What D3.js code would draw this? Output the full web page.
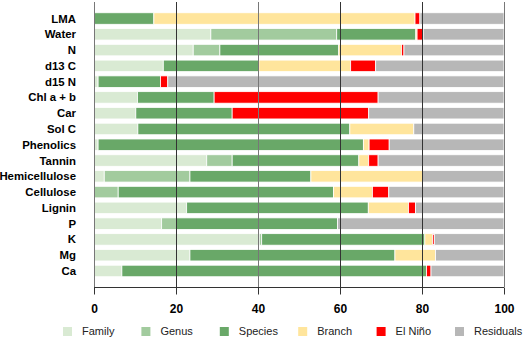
<!DOCTYPE html>
<html>
<head>
<meta charset="utf-8">
<script src="https://cdn.jsdelivr.net/npm/d3@7"></script>
<style>
  body { margin: 0; background: #fff; }
  svg { display: block; font-family: "Liberation Sans", Arial, sans-serif; }
</style>
</head>
<body>
<svg id="chart" width="525" height="339"></svg>
<script>
// variance partitioning (%) per trait
var traits = ["LMA", "Water", "N", "d13 C", "d15 N", "Chl a + b", "Car", "Sol C", "Phenolics",
  "Tannin", "Hemicellulose", "Cellulose", "Lignin", "P", "K", "Mg", "Ca"];

var sources = ["Family", "Genus", "Species", "Branch", "El Niño", "Residuals"];

var family    = [0,    28.5, 24.2, 16.9, 1.0,  10.6, 10.2, 10.7, 1.0,  27.5, 2.5,  0,    22.6, 16.5, 40.3, 23.4, 6.8];
var genus     = [0,    30.7, 6.5,  0,    0,    0,    0,    0,    0,    6.2,  20.9, 5.9,  0,    3.6,  0.6,  0,    0];
var species   = [14.6, 19.3, 29.0, 23.3, 15.2, 18.7, 23.5, 51.7, 64.7, 30.9, 29.5, 52.5, 44.3, 39.3, 39.8, 50.0, 74.3];
var branch    = [63.7, 0.3,  15.3, 22.4, 0,    0,    0,    15.6, 1.4,  2.4,  27.2, 9.5,  9.8,  0,    1.9,  9.9,  0];
var elnino    = [1.2,  1.5,  0.6,  6.1,  1.8,  40.0, 33.3, 0,    4.9,  2.3,  0,    4.0,  1.7,  0,    0.4,  0,    1.1];
var residuals = [20.5, 19.7, 24.4, 31.3, 82.0, 30.7, 33.0, 22.0, 28.0, 30.7, 19.9, 28.1, 21.6, 40.6, 17.0, 16.7, 17.8];

var ticks = [0, 20, 40, 60, 80, 100];
var colors = ["#d9ead3", "#a2cb9e", "#69a868", "#ffe59c", "#ff0000", "#b7b7b7"];

var seriesValues = [family, genus, species, branch, elnino, residuals];
var rows = traits.map(function(t, i) {
  var r = { trait: t };
  sources.forEach(function(s, j) { r[s] = seriesValues[j][i]; });
  return r;
});

var svg = d3.select("#chart");

var x = d3.scaleLinear().domain([0, 100]).range([94, 504]);
var y = d3.scaleBand().domain(traits).range([10.4, 279.1]).paddingInner(0.27).paddingOuter(0.15);
var color = d3.scaleOrdinal().domain(sources).range(colors);

var layers = d3.stack().keys(sources)(rows);

// bars
svg.append("g").selectAll("g")
  .data(layers)
  .enter().append("g")
  .attr("fill", function(d) { return color(d.key); })
  .selectAll("rect")
  .data(function(d) { return d; })
  .enter().append("rect")
  .attr("x", function(d) { return x(d[0]); })
  .attr("y", function(d) { return y(d.data.trait); })
  .attr("width", function(d) { return Math.max(0, x(d[1]) - x(d[0])); })
  .attr("height", y.bandwidth())
  .attr("stroke", "#fff")
  .attr("stroke-width", 0.8);

// vertical grid lines over bars
svg.append("g").selectAll("line")
  .data(ticks)
  .enter().append("line")
  .attr("x1", function(d) { return Math.round(x(d)) + 0.5; })
  .attr("x2", function(d) { return Math.round(x(d)) + 0.5; })
  .attr("y1", 2)
  .attr("y2", 287)
  .attr("stroke", function(d) { return (d == 0 || d == 40 || d == 100) ? "#777" : "#333"; })
  .attr("stroke-width", 1);

// x axis
var xAxis = d3.axisBottom(x).tickValues(ticks).tickSize(7).tickPadding(10);
var gx = svg.append("g").attr("transform", "translate(0,287.5)").call(xAxis);
gx.select(".domain").attr("stroke", "#333").attr("d", "M94,0H504");
gx.selectAll(".tick line").attr("stroke", "#333");
gx.selectAll(".tick text")
  .attr("fill", "#000")
  .style("font-size", "12px")
  .style("font-weight", "bold")
  .style("font-family", "'Liberation Sans', Arial, sans-serif");

// trait labels
svg.append("g").selectAll("text")
  .data(traits)
  .enter().append("text")
  .attr("x", 76)
  .attr("y", function(d) { return y(d) + y.bandwidth() / 2; })
  .attr("dy", "0.35em")
  .attr("text-anchor", "end")
  .style("font-size", "11.4px")
  .style("font-weight", "bold")
  .text(function(d) { return d; });

// legend
var legend = svg.append("g").selectAll("g")
  .data(sources)
  .enter().append("g")
  .attr("transform", function(d, i) { return "translate(" + (63 + i * 78.4) + ",327)"; });
legend.append("rect")
  .attr("width", 9).attr("height", 9)
  .attr("fill", function(d) { return color(d); });
legend.append("text")
  .attr("x", 19).attr("y", 4.5).attr("dy", "0.35em")
  .style("font-size", "11px")
  .attr("fill", "#222")
  .text(function(d) { return d; });
</script>
</body>
</html>
